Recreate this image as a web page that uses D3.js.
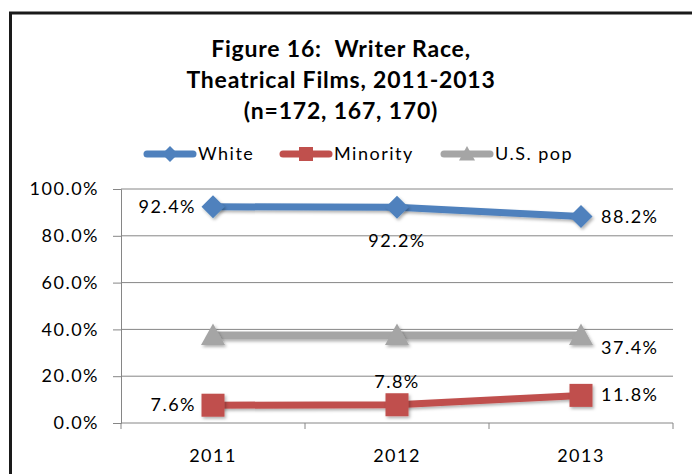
<!DOCTYPE html>
<html><head><meta charset="utf-8">
<script src="https://cdn.jsdelivr.net/npm/d3@7"></script>
<style>body{margin:0;background:#fff}svg{display:block;font-family:Lato,"Open Sans",sans-serif}</style>
</head><body><svg id="c" width="692" height="474"></svg>
<script>
const years = ["2011","2012","2013"];
const white = [92.4, 92.2, 88.2];
const minority = [7.6, 7.8, 11.8];
const uspop = [37.4, 37.4, 37.4];
const yTicks = [0,20,40,60,80,100];
const titleLines = ["Figure 16:  Writer Race,","Theatrical Films, 2011-2013","(n=172, 167, 170)"];
const seriesNames = ["White","Minority","U.S. pop"];

const svg = d3.select("#c");
svg.append("rect").attr("x",10.5).attr("y",13).attr("width",700).attr("height",480)
  .attr("fill","#fff").attr("stroke","#1a1a1a").attr("stroke-width",3);

const defs = svg.append("defs");
const f = defs.append("filter").attr("id","sh").attr("filterUnits","userSpaceOnUse")
  .attr("x",0).attr("y",0).attr("width",692).attr("height",474);
f.append("feDropShadow").attr("dx",1.5).attr("dy",2).attr("stdDeviation",1.5).attr("flood-color","#000").attr("flood-opacity",0.3);
const f2 = defs.append("filter").attr("id","shm").attr("x","-50%").attr("y","-50%").attr("width","200%").attr("height","200%");
f2.append("feDropShadow").attr("dx",1.5).attr("dy",2).attr("stdDeviation",1.5).attr("flood-color","#000").attr("flood-opacity",0.3);

const m = {l:121, r:673, t:189, b:423};
const x = d3.scaleBand().domain(years).range([m.l, m.r]);
const y = d3.scaleLinear().domain([0,100]).range([m.b, m.t]);
const cx = d => x(d) + x.bandwidth()/2;
const LS = 1.5;

// title
svg.append("g").selectAll("text").data(titleLines).join("text")
  .attr("x",341).attr("y",(d,i)=>57+i*31).attr("text-anchor","middle")
  .style("white-space","pre").attr("letter-spacing",0.8)
  .attr("font-weight","bold").attr("font-size",23).attr("fill","#000").text(d=>d);

// gridlines & y axis
const ya = svg.append("g").attr("transform",`translate(${m.l},0)`)
  .call(d3.axisLeft(y).tickValues(yTicks).tickSize(8).tickFormat(d=>d3.format(".1f")(d)+"%"));
ya.select(".domain").attr("stroke","#868686");
ya.selectAll(".tick line").attr("stroke","#868686");
ya.selectAll(".tick text").attr("font-size",18).attr("fill","#000").attr("x",-22)
  .attr("font-family","Lato").attr("letter-spacing",LS);
svg.append("g").selectAll("line").data(yTicks).join("line")
  .attr("x1",m.l).attr("x2",m.r).attr("y1",d=>y(d)).attr("y2",d=>y(d))
  .attr("stroke","#868686").attr("stroke-width",1);

// x axis
const xa = svg.append("g").attr("transform",`translate(0,${m.b})`)
  .call(d3.axisBottom(x).tickSize(0));
xa.select(".domain").remove();
xa.selectAll(".tick text").attr("font-size",18).attr("fill","#000").attr("y",26)
  .attr("font-family","Lato").attr("letter-spacing",LS);
svg.append("g").selectAll("line").data(years.map(d=>x(d)).concat([m.r])).join("line")
  .attr("x1",d=>d).attr("x2",d=>d).attr("y1",m.b).attr("y2",m.b+6).attr("stroke","#868686");

const series = [
  {name:seriesNames[0], vals:white, color:"#4F81BD", sym:"diamond", w:7},
  {name:seriesNames[1], vals:minority, color:"#C0504D", sym:"square", w:7},
  {name:seriesNames[2], vals:uspop, color:"#A5A5A5", sym:"triangle", w:8}
];
function marker(g, sym, color, s) {
  if (sym==="diamond") g.append("path").attr("d",`M0,${-s}L${s},0L0,${s}L${-s},0Z`).attr("fill",color);
  else if (sym==="square") g.append("rect").attr("x",-s).attr("y",-s).attr("width",2*s).attr("height",2*s).attr("fill",color);
  else g.append("path").attr("d",`M0,${-s}L${s},${s*0.8}L${-s},${s*0.8}Z`).attr("fill",color);
}
const line = d3.line().x((d,i)=>cx(years[i])).y(d=>y(d));
series.forEach(s=>{
  svg.append("path").datum(s.vals).attr("d",line).attr("fill","none")
    .attr("stroke",s.color).attr("stroke-width",s.w).attr("stroke-linejoin","round").attr("filter","url(#sh)");
  s.vals.forEach((v,i)=>{
    const g = svg.append("g").attr("transform",`translate(${cx(years[i])},${y(v)})`).attr("filter","url(#shm)");
    marker(g, s.sym, s.color, s.sym==="square"?11.5:(s.sym==="diamond"?11.5:12));
  });
});

// data labels
const fmt = v => d3.format(".1f")(v)+"%";
const labels = [
  {v:white[0], i:0, pos:"left"},
  {v:white[1], i:1, pos:"below"},
  {v:white[2], i:2, pos:"right"},
  {v:uspop[2], i:2, pos:"rightlow"},
  {v:minority[0], i:0, pos:"left"},
  {v:minority[1], i:1, pos:"above"},
  {v:minority[2], i:2, pos:"right"}
];
svg.append("g").selectAll("text").data(labels).join("text")
  .attr("font-size",18).attr("fill","#000").attr("letter-spacing",LS)
  .attr("x",d=>{const c=cx(years[d.i]); return d.pos==="left"?c-17:(d.pos.startsWith("right")?c+20:c);})
  .attr("y",d=>{const p=y(d.v); return d.pos==="below"?p+40:d.pos==="above"?p-17:d.pos==="rightlow"?p+19:p+6;})
  .attr("text-anchor",d=>d.pos==="left"?"end":d.pos.startsWith("right")?"start":"middle")
  .text(d=>fmt(d.v));

// legend
const legX = [143, 279, 440], legTX = [198, 334, 495];
const lg = svg.append("g");
series.forEach((s,i)=>{
  lg.append("line").attr("x1",legX[i]+4).attr("x2",legX[i]+50).attr("y1",154).attr("y2",154)
    .attr("stroke",s.color).attr("stroke-width",7).attr("stroke-linecap","round");
  const g = lg.append("g").attr("transform",`translate(${legX[i]+27},154)`);
  marker(g, s.sym, s.color, s.sym==="diamond"?8:(s.sym==="square"?7:8));
  lg.append("text").attr("x",legTX[i]).attr("y",160).attr("font-size",18).attr("fill","#000")
    .attr("letter-spacing",LS).text(s.name);
});
</script></body></html>
